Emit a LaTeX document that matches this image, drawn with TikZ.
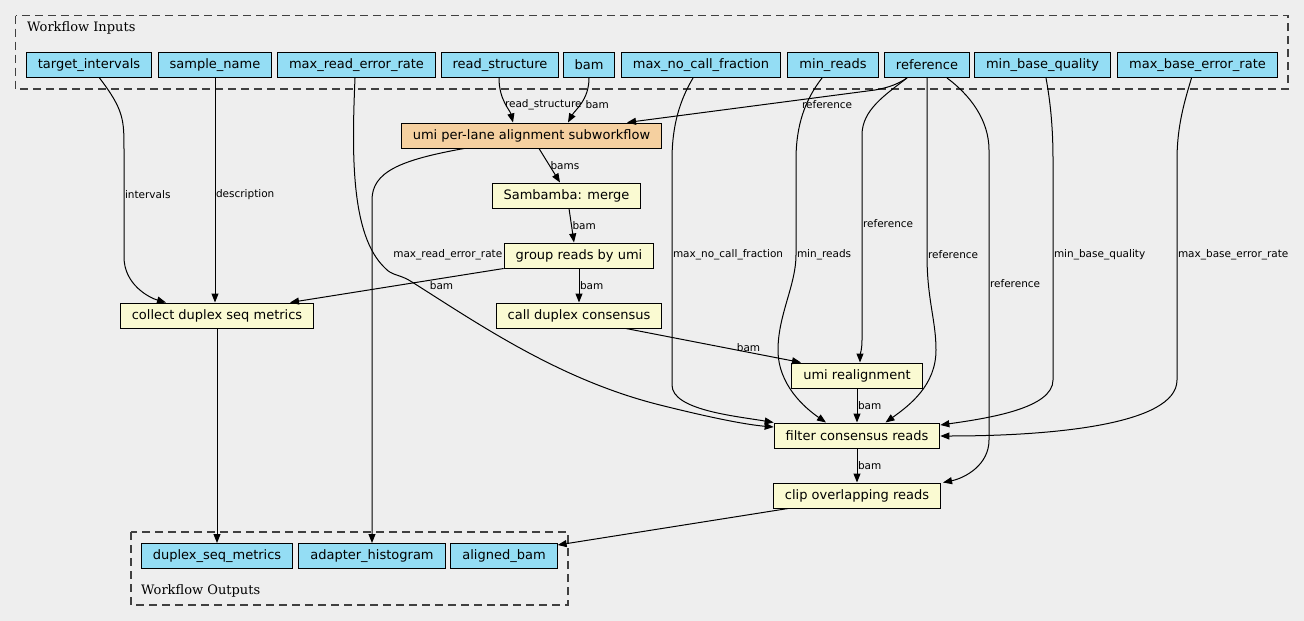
\documentclass[tikz,border=0pt]{standalone}
\usepackage{fontspec}
\setmainfont{DejaVu Sans}
\newfontfamily\titlefont{DejaVu Serif}
\usepackage{xcolor}
\usetikzlibrary{arrows.meta}

\definecolor{bgc}{HTML}{EEEEEE}
\definecolor{ioblue}{HTML}{94DDF4}
\definecolor{taskyellow}{HTML}{FAFAD2}
\definecolor{subworange}{HTML}{F5D0A0}
\definecolor{clustergray}{HTML}{404040}

\begin{document}
\begin{tikzpicture}[x=1pt,y=-1pt,
    box/.style={draw=black,line width=1pt,minimum height=25pt,inner xsep=11.5pt,
                font=\fontsize{13}{15}\selectfont},
    iobox/.style={box,fill=ioblue},
    taskbox/.style={box,fill=taskyellow},
    subbox/.style={box,fill=subworange},
    flow/.style={line width=1pt,-{Triangle[length=9pt,width=7pt]}},
    lbl/.style={font=\fontsize{10.5}{12}\selectfont,inner sep=0.5pt},
    cluster/.style={draw=clustergray,line width=1.3pt,dash pattern=on 8pt off 5pt},
    ctitle/.style={font=\titlefont\fontsize{13}{15}\selectfont,inner sep=0pt,anchor=west}]
    \fill[bgc] (0,0) rectangle (1304,621);

    % Workflow inputs
    \draw[cluster] (15.5,15.5) rectangle (1288,89);
    \node[ctitle] (intitle) at (27,27.5) {Workflow Inputs};
    \node[iobox] (tgt) at (89,65) {target\_intervals};
    \node[iobox] (sname) at (215,65) {sample\_name};
    \node[iobox] (mre) at (356.5,65) {max\_read\_error\_rate};
    \node[iobox] (rstruct) at (500,65) {read\_structure};
    \node[iobox] (bam) at (589,65) {bam};
    \node[iobox] (mncf) at (701,65) {max\_no\_call\_fraction};
    \node[iobox] (minr) at (833,65) {min\_reads};
    \node[iobox] (ref) at (927,65) {reference};
    \node[iobox] (mbq) at (1042.5,65) {min\_base\_quality};
    \node[iobox] (mber) at (1197.5,65) {max\_base\_error\_rate};

    % Tasks
    \node[subbox] (umi) at (531.5,135.5) {umi per-lane alignment subworkflow};
    \node[taskbox] (merge) at (566.5,195.5) {Sambamba: merge};
    \node[taskbox] (group) at (579,255.5) {group reads by umi};
    \node[taskbox] (collect) at (217,315.5) {collect duplex seq metrics};
    \node[taskbox] (consensus) at (579,315.5) {call duplex consensus};
    \node[taskbox] (realign) at (857,375.5) {umi realignment};
    \node[taskbox] (filter) at (857,435.5) {filter consensus reads};
    \node[taskbox] (clip) at (857,495.5) {clip overlapping reads};

    % Workflow outputs
    \draw[cluster] (131,532) rectangle (568,605);
    \node[ctitle] (outtitle) at (141,591) {Workflow Outputs};
    \node[iobox] (dsm) at (217,556) {duplex\_seq\_metrics};
    \node[iobox] (ahist) at (372,556) {adapter\_histogram};
    \node[iobox] (abam) at (504,556) {aligned\_bam};

    % Inputs into the subworkflow
    \draw[flow] ([xshift=-1pt]rstruct.south) .. controls (499,100) and (510,110) .. ([xshift=-18.5pt]umi.north)
        node[lbl,anchor=west] at (504,105) {read\_structure};
    \draw[flow] (bam.south) .. controls (589,100) and (575,110) .. ([xshift=36.5pt]umi.north)
        node[lbl,anchor=west] at (584.5,105) {bam};
    \draw[flow] ([xshift=-20pt]ref.south) .. controls (895,86) and (885,88) .. (875,90)
        -- ([xshift=95.5pt]umi.north) node[lbl,anchor=west] at (801,105) {reference};

    % Main chain
    \draw[flow] ([xshift=7.5pt]umi.south) -- node[lbl,midway,anchor=west] {bams} ([xshift=-6.5pt]merge.north);
    \draw[flow] ([xshift=2.5pt]merge.south) -- node[lbl,midway,anchor=west] {bam} ([xshift=-5pt]group.north);
    \draw[flow] (group.south) -- node[lbl,midway,anchor=west] {bam} (consensus.north);
    \draw[flow] (group.south west) -- node[lbl,pos=0.35,anchor=north west] {bam} ([xshift=73pt]collect.north);
    \draw[flow] ([xshift=47pt]consensus.south) -- node[lbl,pos=0.7,above] {bam} ([xshift=-56pt]realign.north);
    \draw[flow] (realign.south) -- node[lbl,midway,anchor=west] {bam} (filter.north);
    \draw[flow] (filter.south) -- node[lbl,midway,anchor=west] {bam} (clip.north);

    % Metrics
    \draw[flow] ([xshift=10.5pt]tgt.south) .. controls (124,110) and (124,120) .. (124,150)
        -- node[lbl,pos=0.42,anchor=west] {intervals} (124,257)
        .. controls (124,285) and (150,298) .. ([xshift=-51pt]collect.north);
    \draw[flow] (sname.south) -- node[lbl,pos=0.52,anchor=west] {description} (sname.south |- collect.north);

    % Parameters into the filter
    \draw[flow] ([xshift=-1.5pt]mre.south) .. controls (352,150) and (350,235) .. (385,268)
        .. controls (392,276) and (400,274) .. (412,282)
        .. controls (480,325) and (560,380) .. (660,405)
        .. controls (720,420) and (750,425) .. ([yshift=8.5pt]filter.west);
    \node[lbl,anchor=east] (mrelbl) at (503,255) {max\_read\_error\_rate};
    \draw[flow] ([xshift=-8pt]mncf.south) .. controls (680,100) and (672,125) .. (672,160)
        -- (672,255) node[lbl,anchor=west] {max\_no\_call\_fraction} -- (672,385)
        .. controls (672,410) and (735,416) .. ([yshift=13pt]filter.west);
    \draw[flow] ([xshift=-11pt]minr.south) .. controls (805,100) and (796,125) .. (796,160)
        -- (796,255) node[lbl,anchor=west] {min\_reads}
        .. controls (796,285) and (778,315) .. (778,350)
        .. controls (778,385) and (805,408) .. ([xshift=-31pt]filter.north);
    \draw[flow] ([xshift=-20pt]ref.south) .. controls (885,95) and (862,110) .. (862,135)
        -- node[lbl,pos=0.43,anchor=west] {reference} (862,340)
        .. controls (862,350) and (860,355) .. ([xshift=3pt]realign.north);
    \draw[flow] (ref.south) -- (927,255) node[lbl,anchor=west] {reference}
        .. controls (927,300) and (936,320) .. (936,350)
        .. controls (936,385) and (910,405) .. ([xshift=28.5pt]filter.north);
    \draw[flow] ([xshift=3.5pt]mbq.south) .. controls (1050,100) and (1053,125) .. (1053,160)
        -- (1053,255) node[lbl,anchor=west] {min\_base\_quality} -- (1053,380)
        .. controls (1053,408) and (990,418) .. ([yshift=10.5pt]filter.east);
    \draw[flow] ([xshift=-6pt]mber.south) .. controls (1185,100) and (1177,125) .. (1177,160)
        -- (1177,255) node[lbl,anchor=west] {max\_base\_error\_rate} -- (1177,380)
        .. controls (1177,425) and (1050,436) .. ([yshift=-0.5pt]filter.east);
    \draw[flow] ([xshift=20pt]ref.south) .. controls (970,95) and (989,120) .. (989,150)
        -- node[lbl,pos=0.46,anchor=west] {reference} (989,440)
        .. controls (989,465) and (965,478) .. ([xshift=2pt]clip.north east);

    % Outputs
    \draw[flow] (collect.south) -- (dsm.north);
    \draw[flow] ([xshift=-67.5pt]umi.south) .. controls (400,160) and (372,172) .. (372,200) -- (ahist.north);
    \draw[flow] ([xshift=-69pt]clip.south) -- ([yshift=-2pt]abam.north east);
\end{tikzpicture}
\end{document}
